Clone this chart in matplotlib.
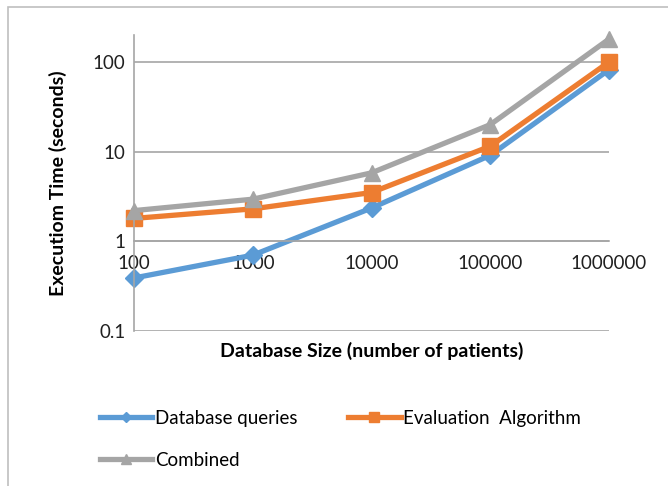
import matplotlib.pyplot as plt
from matplotlib.patches import Rectangle

plt.rcParams['font.family'] = ['Lato', 'DejaVu Sans']

sizes = ['100', '1000', '10000', '100000', '1000000']
db_queries = [0.39, 0.70, 2.35, 9.1, 82]
evaluation = [1.8, 2.3, 3.5, 11.5, 100]
combined = [2.2, 2.95, 5.8, 20, 180]

blue = '#5B9BD5'
orange = '#ED7D31'
gray = '#A5A5A5'

fig = plt.figure(figsize=(6.68, 4.86), dpi=100)
ax = fig.add_axes([0.2006, 0.319, 0.7111, 0.609])

x = range(len(sizes))
l1, = ax.plot(x, db_queries, color=blue, lw=3.8, marker='D', ms=9, label='Database queries', clip_on=False)
l2, = ax.plot(x, evaluation, color=orange, lw=3.8, marker='s', ms=11, label='Evaluation  Algorithm', clip_on=False)
l3, = ax.plot(x, combined, color=gray, lw=3.8, marker='^', ms=12, label='Combined', clip_on=False)

ax.set_yscale('log')
ax.set_ylim(0.1, 200)
ax.set_xlim(0, len(sizes) - 1)
ax.set_yticks([0.1, 1, 10, 100])
ax.set_yticklabels(['0.1', '1', '10', '100'])
ax.minorticks_off()
ax.set_xticks(list(x))
ax.set_xticklabels(sizes)

for v in [0.1, 1, 10, 100]:
    ax.axhline(v, color='#A6A6A6', lw=1.2, zorder=0)

for s in ['top', 'right']:
    ax.spines[s].set_visible(False)
ax.spines['bottom'].set_position(('data', 1))
ax.spines['bottom'].set_color('#A6A6A6')
ax.spines['bottom'].set_linewidth(1.2)
ax.spines['left'].set_color('#A6A6A6')
ax.spines['left'].set_linewidth(1.2)
ax.tick_params(length=0, labelsize=13.5, pad=6)
ax.tick_params(axis='x', pad=10)
for t in ax.get_xticklabels() + ax.get_yticklabels():
    t.set_color('#202020')

ax.set_xlabel('Database Size (number of patients)', fontsize=14, fontweight='bold')
ax.xaxis.set_label_coords(0.5, -0.038)
ax.set_ylabel('Executiom Time (seconds)', fontsize=14, fontweight='bold')
ax.yaxis.set_label_coords(-0.14, 0.5)

fig.legend([l1, l3, l2], ['Database queries', 'Combined', 'Evaluation  Algorithm'],
           ncol=2, loc='upper left', bbox_to_anchor=(0.124, 0.192), frameon=False,
           fontsize=13.5, handlelength=2.8, handletextpad=0.15, columnspacing=2.7,
           labelspacing=1.33, markerscale=0.6)

fig.patches.append(Rectangle((8 / 668, -0.1), 1.2, 1.1 - 7 / 486, transform=fig.transFigure,
                             fill=False, edgecolor='#BFBFBF', lw=1.2))

fig.savefig('out.png', dpi=100)
